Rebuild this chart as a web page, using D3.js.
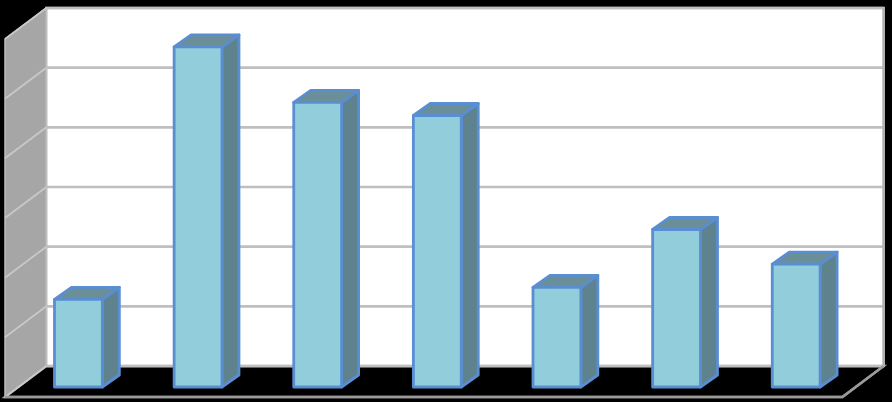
<!DOCTYPE html>
<html>
<head>
<meta charset="utf-8">
<style>html,body{margin:0;padding:0;background:#000;overflow:hidden}svg{display:block}</style>
<script src="https://cdn.jsdelivr.net/npm/d3@7/dist/d3.min.js"></script>
</head>
<body>
<script>
const categories = ["1","2","3","4","5","6","7"];
const seriesValues = [14.7, 57.0, 47.7, 45.5, 16.7, 26.4, 20.6];
const gridTicks = [0,10,20,30,40,50,60];

const W = 892, H = 402;
const svg = d3.select("body").append("svg").attr("width",W).attr("height",H);
svg.append("rect").attr("width",W).attr("height",H).attr("fill","#000");

// front plane of the bars
const x = d3.scaleBand().domain(categories).range([18.6,856]).paddingInner(0.6).paddingOuter(0.3);
const y = d3.scaleLinear().domain([0,60]).range([387,29]);

const back = {dx:27.7, dy:-21};   // bar plane to back wall
const front = {dx:-13.6, dy:10};  // bar plane to front of floor
const depth = {dx:17, dy:-12};    // bar depth

const xL = x.range()[0], xR = x.range()[1];
const pts = a => a.map(p=>p.join(",")).join(" ");
const yB = v => y(v)+back.dy;

// floor
svg.append("polygon")
  .attr("points",pts([[xL+front.dx,y(0)+front.dy],[xL+back.dx,yB(0)],[xR+back.dx,yB(0)],[xR+front.dx,y(0)+front.dy]]))
  .attr("fill","#000").attr("stroke","#a6a6a6").attr("stroke-width",2.4);
// back wall
svg.append("rect")
  .attr("x",xL+back.dx).attr("y",yB(60)).attr("width",xR-xL).attr("height",yB(0)-yB(60))
  .attr("fill","#fff").attr("stroke","#bfbfbf").attr("stroke-width",2.4);
// side wall
svg.append("polygon")
  .attr("points",pts([[xL+front.dx,y(60)+front.dy],[xL+back.dx,yB(60)],[xL+back.dx,yB(0)],[xL+front.dx,y(0)+front.dy]]))
  .attr("fill","#a6a6a6").attr("stroke","#bfbfbf").attr("stroke-width",1.5);

// grid lines
svg.append("g").selectAll("line").data(gridTicks).join("line")
  .attr("x1",xL+back.dx).attr("x2",xR+back.dx).attr("y1",yB).attr("y2",yB)
  .attr("stroke","#bfbfbf").attr("stroke-width",2.6);
svg.append("g").selectAll("line").data(gridTicks).join("line")
  .attr("x1",xL+front.dx).attr("x2",xL+back.dx)
  .attr("y1",d=>y(d)+front.dy).attr("y2",yB)
  .attr("stroke","#c8c8c8").attr("stroke-width",1.8);

// redraw floor edge lines above the grid
svg.append("polyline")
  .attr("points",pts([[xL+front.dx,y(0)+front.dy],[xR+front.dx,y(0)+front.dy],[xR+back.dx,yB(0)]]))
  .attr("fill","none").attr("stroke","#999999").attr("stroke-width",2.4);
svg.append("line")
  .attr("x1",xR+back.dx).attr("x2",xR+back.dx).attr("y1",yB(60)).attr("y2",yB(0))
  .attr("stroke","#b0b0b0").attr("stroke-width",2.4);

// bars
const rows = categories.map((c,i)=>({c,v:seriesValues[i]}));
const bars = svg.append("g").selectAll("g").data(rows).join("g")
  .attr("stroke","#5a8ed2").attr("stroke-width",2.8).attr("stroke-linejoin","round");
bars.append("polygon").attr("fill","#5f828f")
  .attr("points",d=>{const r=x(d.c)+x.bandwidth();return pts([[r,y(d.v)],[r+depth.dx,y(d.v)+depth.dy],[r+depth.dx,y(0)+depth.dy],[r,y(0)]]);});
bars.append("polygon").attr("fill","#6b8f98")
  .attr("points",d=>{const l=x(d.c),r=l+x.bandwidth();return pts([[l,y(d.v)],[l+depth.dx,y(d.v)+depth.dy],[r+depth.dx,y(d.v)+depth.dy],[r,y(d.v)]]);});
bars.append("rect").attr("fill","#92cddc")
  .attr("x",d=>x(d.c)).attr("width",x.bandwidth())
  .attr("y",d=>y(d.v)).attr("height",d=>y(0)-y(d.v));
</script>
</body>
</html>
